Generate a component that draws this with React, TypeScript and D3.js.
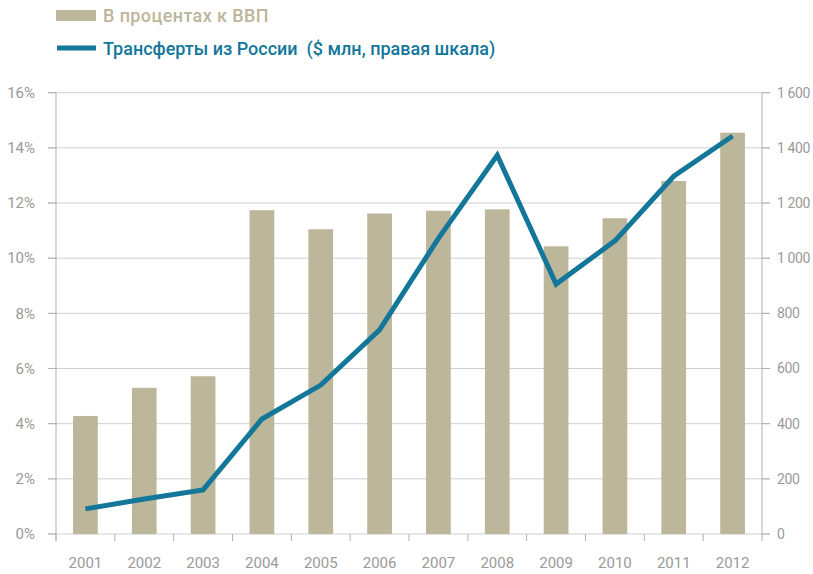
import { useMemo } from "react";
import * as d3 from "d3";

// ── Data ────────────────────────────────────────────────────────────────
const years = ["2001", "2002", "2003", "2004", "2005", "2006", "2007", "2008", "2009", "2010", "2011", "2012"];
const gdpShare = [4.28, 5.3, 5.72, 11.74, 11.05, 11.62, 11.72, 11.77, 10.43, 11.45, 12.8, 14.55];
const transfers = [91, 127, 160, 417, 540, 740, 1072, 1373, 906, 1063, 1297, 1443];
const leftTicks = [0, 2, 4, 6, 8, 10, 12, 14, 16];
const rightTicks = [0, 200, 400, 600, 800, 1000, 1200, 1400, 1600];

const W = 813;
const H = 574;
const PLOT = { left: 56, right: 762, top: 92.7, bottom: 534 };
const BAR_COLOR = "#bcb69a";
const LINE_COLOR = "#13779a";
const GRID = "#cfcfcf";
const AXIS = "#b0b0b0";
const TICK_TEXT = "#9a9a9a";
const FONT = "Roboto, 'DejaVu Sans', sans-serif";

const fmtRight = (v: number) =>
  v >= 1000 ? `${Math.floor(v / 1000)} ${String(v % 1000).padStart(3, "0")}` : String(v);

export default function App() {
  const { x, yL, yR, linePath } = useMemo(() => {
    const x = d3.scaleBand<string>().domain(years).range([PLOT.left, PLOT.right]).paddingInner(0).paddingOuter(0);
    const yL = d3.scaleLinear().domain([0, 16]).range([PLOT.bottom, PLOT.top]);
    const yR = d3.scaleLinear().domain([0, 1600]).range([PLOT.bottom, PLOT.top]);
    const line = d3
      .line<number>()
      .x((_, i) => (x(years[i]) ?? 0) + x.bandwidth() / 2)
      .y((d) => yR(d));
    return { x, yL, yR, linePath: line(transfers) ?? "" };
  }, []);

  const bw = x.bandwidth();
  const barW = bw * 0.42;

  return (
    <svg
      width={W}
      height={H}
      style={{ position: "absolute", left: 0, top: 0, background: "#fff" }}
      fontFamily={FONT}
    >
      {/* Legend */}
      <rect x={56} y={10} width={40} height={11} fill={BAR_COLOR} />
      <text x={103} y={22} fontSize={18} fontWeight={500} fill={BAR_COLOR} letterSpacing={0.4}>
        В процентах к ВВП
      </text>
      <line x1={57} x2={96} y1={48} y2={48} stroke={LINE_COLOR} strokeWidth={5} />
      <text x={103} y={54.5} fontSize={18} fontWeight={500} fill={LINE_COLOR} style={{ whiteSpace: "pre" }}>
        {"Трансферты из России  ($ млн, правая шкала)"}
      </text>

      {/* Gridlines */}
      {leftTicks.map((t) => (
        <line key={t} x1={PLOT.left - 8} x2={PLOT.right + 8} y1={yL(t)} y2={yL(t)} stroke={GRID} strokeWidth={1} />
      ))}
      {/* tick stubs coloured like axis */}
      {leftTicks.map((t) => (
        <g key={`s${t}`}>
          <line x1={PLOT.left - 8} x2={PLOT.left} y1={yL(t)} y2={yL(t)} stroke={AXIS} />
          <line x1={PLOT.right} x2={PLOT.right + 8} y1={yL(t)} y2={yL(t)} stroke={AXIS} />
        </g>
      ))}

      {/* Axes */}
      <line x1={PLOT.left} x2={PLOT.left} y1={PLOT.top} y2={PLOT.bottom + 7} stroke={AXIS} />
      <line x1={PLOT.right} x2={PLOT.right} y1={PLOT.top} y2={PLOT.bottom + 7} stroke={AXIS} />
      {years.map((yr) => (
        <line
          key={`t${yr}`}
          x1={x(yr) ?? 0}
          x2={x(yr) ?? 0}
          y1={PLOT.bottom}
          y2={PLOT.bottom + 7}
          stroke={AXIS}
        />
      ))}

      {/* Bars */}
      {years.map((yr, i) => (
        <rect
          key={yr}
          x={(x(yr) ?? 0) + bw / 2 - barW / 2}
          y={yL(gdpShare[i])}
          width={barW}
          height={PLOT.bottom - yL(gdpShare[i])}
          fill={BAR_COLOR}
        />
      ))}

      {/* Line */}
      <path d={linePath} fill="none" stroke={LINE_COLOR} strokeWidth={5} strokeLinejoin="miter" />

      {/* Left tick labels */}
      {leftTicks.map((t) => (
        <text key={`l${t}`} x={35} y={yL(t)} dy="0.35em" textAnchor="end" fontSize={15} fill={TICK_TEXT}>
          {`${t}%`}
        </text>
      ))}
      {/* Right tick labels */}
      {rightTicks.map((t) => (
        <text
          key={`r${t}`}
          x={777}
          y={yR(t)}
          dy="0.35em"
          textAnchor="start"
          fontSize={14}
          letterSpacing={-0.4}
          fill={TICK_TEXT}
        >
          {fmtRight(t)}
        </text>
      ))}
      {/* Year labels */}
      {years.map((yr) => (
        <text
          key={`y${yr}`}
          x={(x(yr) ?? 0) + bw / 2}
          y={568}
          textAnchor="middle"
          fontSize={15}
          fill={TICK_TEXT}
        >
          {yr}
        </text>
      ))}
    </svg>
  );
}
